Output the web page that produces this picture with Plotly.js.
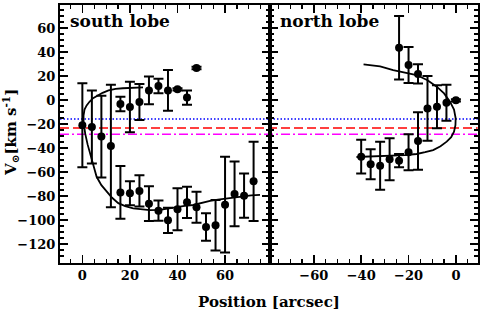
<!DOCTYPE html>
<html><head><meta charset="utf-8">
<script src="https://cdn.plot.ly/plotly-3.0.1.min.js"></script>
<style>html,body{margin:0;padding:0;background:#fff}#c{width:485px;height:313px}</style>
</head><body><div id="c"></div>
<script>
// South lobe data
const southX = [0, 4, 8, 12, 16, 20, 24, 28, 32, 36, 40, 44, 48,
                16, 20, 24, 28, 32, 36, 40, 44, 48, 52, 56, 60, 64, 68, 72];
const southY = [-21, -22.5, -30.5, -38.3, -3.3, -5.8, -1.7, 8, 11.7, 8, 8.9, 2, 26.7,
                -77, -77.8, -75.8, -86.4, -92.2, -100.3, -91.1, -85.3, -89.4, -105.8, -104.4, -87.2, -78.3, -79.7, -67.8];
const southErr = [35, 30.5, 34, 51, 6, 21, 15, 11.5, 6, 17, 1, 6, 1,
                  22, 10, 13, 14.5, 8.5, 10.5, 17.5, 13, 13, 11.5, 21, 40, 27, 18.5, 33];
// North lobe data
const northX = [-24, -20, -16, -12, -8, -4, 0, -16, -20, -24, -28, -32, -36, -40];
const northY = [43.6, 29.2, 21.7, -7, -5.6, -2.2, -0.3, -34.2, -43.5, -50.6, -49.4, -54.7, -53.6, -47.2];
const northErr = [26.5, 15, 8, 27, 18, 15, 1, 24, 15, 5.5, 17.5, 20, 12.5, 14];
// Model curves
const modelSX = [25.5, 21, 17, 14, 11, 8.5, 6.5, 4.5, 3, 1.8, 0.9, 0.5, 0.5, 0.8, 1.2, 2.2, 3.5, 4.7, 6, 8, 10.2, 12.5, 15.1, 18, 21.4, 25, 28.4, 32.6, 36, 39.7, 43, 46.6, 50, 53.7, 57, 60.7, 64, 67.6, 71, 74.7];
const modelSY = [10.5, 10.3, 9.8, 9.2, 8, 6, 4, 1.5, -1.5, -4.5, -8, -13, -18, -23, -28, -37, -47, -56, -64, -71, -76.4, -81.5, -86, -88.5, -90.3, -91.3, -91.7, -91.6, -90.5, -88.8, -88.2, -87.5, -85.8, -84, -83, -82, -81, -80, -79.5, -79];
const modelNX = [-39, -32, -26.5, -21, -16.6, -12, -8.1, -5, -2.5, -0.8, -0.1, -0.2, -0.8, -2, -3.9, -6.5, -9.6, -13, -16.6, -21.5, -30, -42];
const modelNY = [29.7, 28, 25, 23, 20.8, 16.5, 11.1, 5.5, -1.4, -8, -15.3, -21, -26.4, -31, -34.7, -38.5, -41.7, -43.5, -45, -46, -46.8, -47.5];
// Reference velocity levels
const refLevels = [-15.8, -23.3, -28.6];
const refColors = ['#0000ff', '#ff0000', '#ff00ff'];
const refDash = ['1.5px,2px', '9px,4px', '9px,3px,2px,3px'];
const xTicksS = [0, 20, 40, 60];
const xTicksN = [-60, -40, -20, 0];
const yTicks = [-120, -100, -80, -60, -40, -20, 0, 20, 40, 60];

const FONT = 'DejaVu Serif';
const d1 = [60/485, 270/485], d2 = [270/485, 477.7/485];
const yd = [(313-262.7)/313, (313-4.5)/313];

const errStyle = (arr) => ({type:'data', array:arr, visible:true, color:'#000', thickness:2, width:5});
const traces = [
  {x: modelSX, y: modelSY, xaxis:'x', yaxis:'y', mode:'lines', line:{color:'#000', width:1.8}, hoverinfo:'skip'},
  {x: modelNX, y: modelNY, xaxis:'x2', yaxis:'y2', mode:'lines', line:{color:'#000', width:1.8}, hoverinfo:'skip'},
  {x: southX, y: southY, xaxis:'x', yaxis:'y', mode:'markers', marker:{color:'#000', size:8}, error_y: errStyle(southErr)},
  {x: northX, y: northY, xaxis:'x2', yaxis:'y2', mode:'markers', marker:{color:'#000', size:8}, error_y: errStyle(northErr)}
];

const axCommon = {
  showgrid:false, zeroline:false, showline:true, linecolor:'#000', linewidth:2, mirror:'allticks',
  ticks:'inside', ticklen:8, tickwidth:1.5, tickcolor:'#000',
  tickfont:{family:FONT, size:13, color:'#000', weight:'bold'},
  minor:{dtick:5, ticks:'inside', ticklen:4, tickwidth:1.2, tickcolor:'#000'}
};
const shapes = [];
refLevels.forEach((v,i) => {
  shapes.push({type:'line', xref:'paper', yref:'y', x0:d1[0], x1:d2[1], y0:v, y1:v,
    line:{color:refColors[i], width:1.5, dash:refDash[i]}, layer:'below'});
});

const layout = {
  width:485, height:313, margin:{l:0, r:0, t:0, b:0},
  paper_bgcolor:'#fff', plot_bgcolor:'#fff', showlegend:false,
  xaxis: Object.assign({}, axCommon, {domain:d1, range:[-9.4, 78.9], tickvals:xTicksS, anchor:'y'}),
  xaxis2: Object.assign({}, axCommon, {domain:d2, range:[-78.5, 9.2], tickvals:xTicksN, anchor:'y2'}),
  yaxis: Object.assign({}, axCommon, {domain:yd, range:[-135.6, 79.6], tickvals:yTicks, anchor:'x'}),
  yaxis2: Object.assign({}, axCommon, {domain:yd, range:[-135.6, 79.6], tickvals:yTicks, anchor:'x2', showticklabels:false}),
  shapes: shapes,
  annotations: [
    {text:'south lobe', xref:'paper', yref:'paper', x:68/485, y:1-33/313, xanchor:'left', yanchor:'bottom', showarrow:false,
     font:{family:FONT, size:17, color:'#000', weight:'bold'}},
    {text:'north lobe', xref:'paper', yref:'paper', x:278/485, y:1-33/313, xanchor:'left', yanchor:'bottom', showarrow:false,
     font:{family:FONT, size:17, color:'#000', weight:'bold'}},
    {text:'Position [arcsec]', xref:'paper', yref:'paper', x:269/485, y:1-302/313, xanchor:'center', yanchor:'middle', showarrow:false,
     font:{family:FONT, size:15, color:'#000', weight:'bold'}},
    {text:'V<sub>⊙</sub>[km s<sup>-1</sup>]', xref:'paper', yref:'paper', x:10/485, y:1-133/313, xanchor:'center', yanchor:'middle', showarrow:false,
     textangle:-90, font:{family:FONT, size:15, color:'#000', weight:'bold'}}
  ]
};
Plotly.newPlot('c', traces, layout, {staticPlot:true, displayModeBar:false});
</script></body></html>
